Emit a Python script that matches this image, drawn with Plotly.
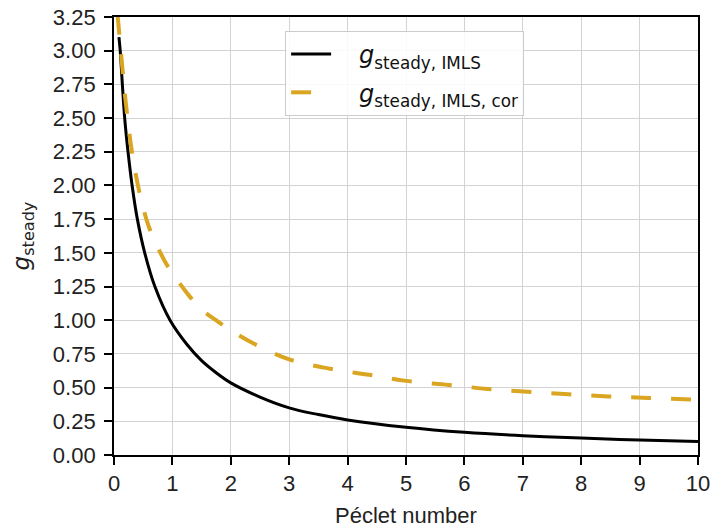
import plotly.graph_objects as go

# Péclet numbers and steady-state values for the IMLS model
pe_imls = [0.085, 0.11, 0.143, 0.183, 0.24, 0.31, 0.40, 0.526, 0.70, 0.96,
           1.25, 1.5, 1.75, 2.0, 2.5, 3.0, 3.5, 4.0, 5.0, 6.0, 7.0, 8.0, 9.0, 10.0]
g_imls = [3.10, 2.98, 2.75, 2.50, 2.25, 2.00, 1.75, 1.50, 1.25, 1.00,
          0.82, 0.70, 0.61, 0.535, 0.43, 0.35, 0.30, 0.26, 0.206, 0.168, 0.143, 0.126, 0.111, 0.100]

# Corrected IMLS values
pe_cor = [0.06, 0.10, 0.15, 0.20, 0.30, 0.42, 0.60, 0.88, 1.0, 1.27, 1.5, 1.78,
          2.0, 2.4, 3.0, 3.7, 4.37, 5.0, 5.73, 6.4, 7.08, 7.78, 8.46, 9.15, 10.0]
g_cor = [3.27, 3.08, 2.84, 2.62, 2.27, 1.98, 1.69, 1.43, 1.35, 1.19, 1.08, 0.99,
         0.925, 0.825, 0.71, 0.64, 0.595, 0.55, 0.52, 0.49, 0.47, 0.45, 0.435, 0.423, 0.41]

x_ticks = list(range(0, 11))
y_ticks = [i * 0.25 for i in range(14)]

tick_font = dict(family="Liberation Sans, Arial", size=22, color="#222")
pad = "&nbsp;" * 3  # extra room between legend sample and label

fig = go.Figure()
fig.add_trace(go.Scatter(
    x=pe_imls, y=g_imls, mode="lines", line_shape="spline",
    line=dict(color="black", width=3),
    name=pad + "<i>g</i><sub>steady, IMLS</sub>", legendgroup="a",
))
fig.add_trace(go.Scatter(
    x=pe_cor, y=g_cor, mode="lines", line_shape="spline",
    line=dict(color="#DAA520", width=4, dash="20px,20px"),
    name=pad + "<i>g</i><sub>steady, IMLS, cor</sub>", legendgroup="b",
))

axis_common = dict(
    showline=True, linecolor="black", linewidth=1.8, mirror=True,
    ticks="outside", ticklen=8, tickwidth=1.6, tickcolor="black",
    showgrid=True, gridcolor="#d3d3d3", gridwidth=1,
    zeroline=False, tickfont=tick_font,
)

fig.update_layout(
    width=711, height=529,
    margin=dict(l=114, r=13, t=17, b=74),
    plot_bgcolor="white", paper_bgcolor="white",
    xaxis=dict(range=[0, 10], tickvals=x_ticks, ticktext=[str(v) for v in x_ticks],
               automargin=False, ticklabelstandoff=0, **axis_common),
    yaxis=dict(range=[0, 3.25], tickvals=y_ticks, ticktext=[f"{v:.2f}" for v in y_ticks],
               automargin="width", ticklabelstandoff=4,
               title=dict(text="<i>g</i><sub>steady</sub>",
                          font=dict(family="DejaVu Sans", size=23, color="#222"),
                          standoff=17),
               **axis_common),
    legend=dict(
        x=0.293, y=0.968, xanchor="left", yanchor="top",
        bgcolor="rgba(255,255,255,0.85)", bordercolor="#cccccc", borderwidth=1,
        font=dict(family="DejaVu Sans", size=24, color="#111"),
        traceorder="grouped", tracegroupgap=4, itemwidth=40,
    ),
    showlegend=True,
    annotations=[dict(
        text="Péclet number", xref="paper", yref="paper", x=0.5, y=-0.137,
        xanchor="center", yanchor="middle", showarrow=False,
        font=dict(family="Liberation Sans, Arial", size=22, color="#222"),
    )],
)

fig.write_html("out.html")
